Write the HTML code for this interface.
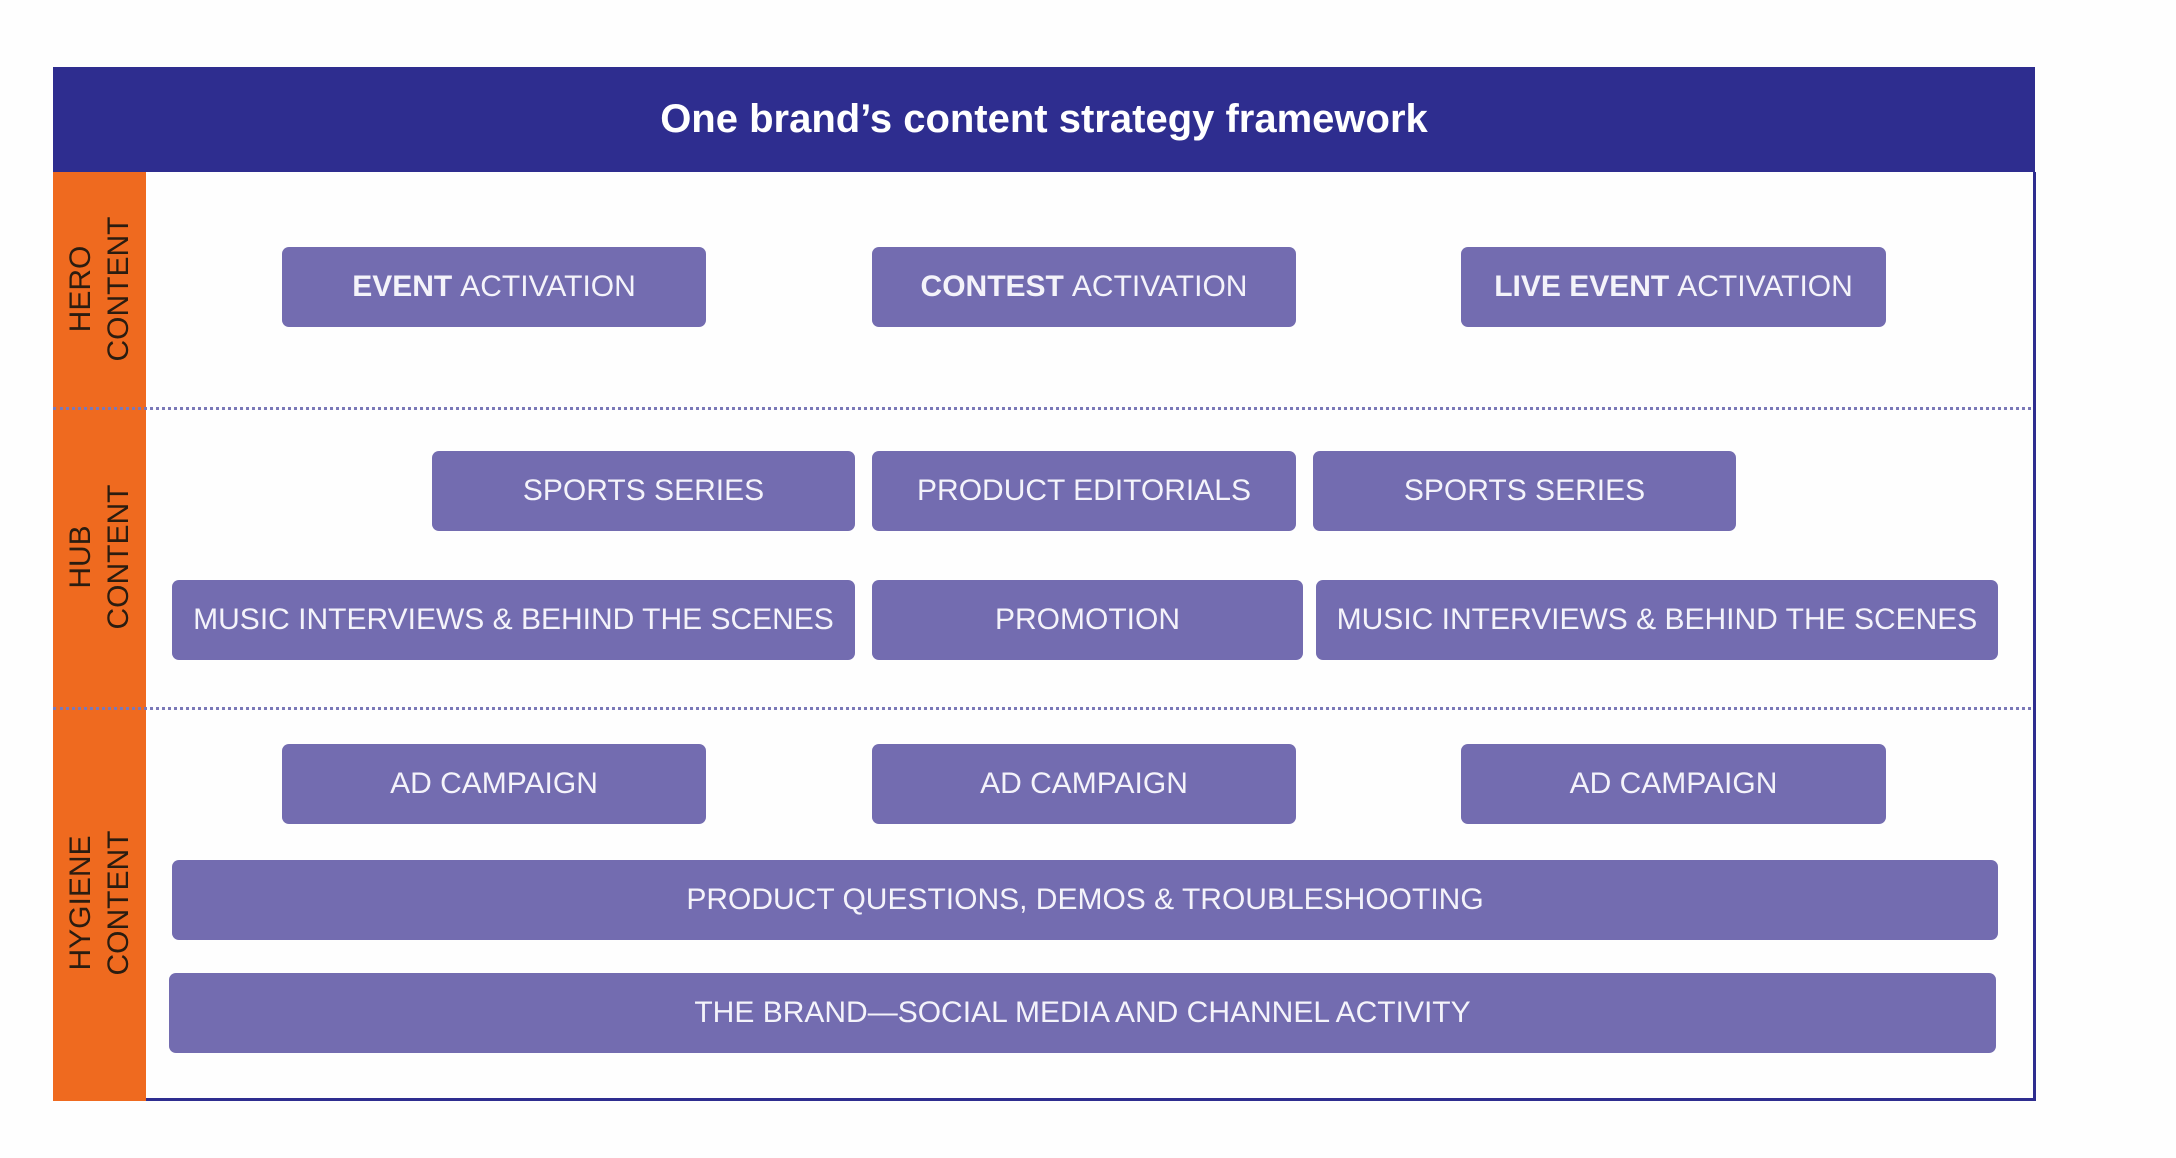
<!DOCTYPE html>
<html><head><meta charset="utf-8"><style>
html,body{margin:0;padding:0;background:#fefefe;}
body{width:2176px;height:1158px;position:relative;overflow:hidden;font-family:"Liberation Sans",Arial,sans-serif;}
.hdr{position:absolute;left:53px;top:67px;width:1982px;height:105px;background:#2e2d8f;color:#fff;font-weight:bold;font-size:40px;display:flex;align-items:center;justify-content:center;}
.frame{position:absolute;left:146px;top:172px;width:1887px;height:926px;border-right:3px solid #2e2d8f;border-bottom:3px solid #2e2d8f;}
.side{position:absolute;left:53px;top:172px;width:93px;height:929px;background:#ef6a1f;}
.dot{position:absolute;left:53px;width:1978px;height:0;border-top:3px dotted #7a78b8;}
.b{position:absolute;height:80px;background:#736cb0;border-radius:7px;color:#f4f3fa;font-size:30px;display:flex;align-items:center;justify-content:center;white-space:nowrap;}
.b b{font-weight:bold;margin-right:8px;}
.lab{position:absolute;left:100px;transform:translate(-50%,-50%) rotate(-90deg);font-size:30px;line-height:38px;text-align:center;color:#2a1c10;white-space:nowrap;}
</style></head><body>
<div class="hdr">One brand’s content strategy framework</div>
<div class="frame"></div>
<div class="side"></div>
<div class="lab" style="top:289px">HERO<br>CONTENT</div>
<div class="lab" style="top:557px">HUB<br>CONTENT</div>
<div class="lab" style="top:903px">HYGIENE<br>CONTENT</div>
<div class="dot" style="top:407px"></div>
<div class="dot" style="top:707px"></div>

<div class="b" style="left:282px;top:247px;width:424px"><b>EVENT</b>ACTIVATION</div>
<div class="b" style="left:872px;top:247px;width:424px"><b>CONTEST</b>ACTIVATION</div>
<div class="b" style="left:1461px;top:247px;width:425px"><b>LIVE EVENT</b>ACTIVATION</div>

<div class="b" style="left:432px;top:451px;width:423px">SPORTS SERIES</div>
<div class="b" style="left:872px;top:451px;width:424px">PRODUCT EDITORIALS</div>
<div class="b" style="left:1313px;top:451px;width:423px">SPORTS SERIES</div>

<div class="b" style="left:172px;top:580px;width:683px">MUSIC INTERVIEWS &amp; BEHIND THE SCENES</div>
<div class="b" style="left:872px;top:580px;width:431px">PROMOTION</div>
<div class="b" style="left:1316px;top:580px;width:682px">MUSIC INTERVIEWS &amp; BEHIND THE SCENES</div>

<div class="b" style="left:282px;top:744px;width:424px">AD CAMPAIGN</div>
<div class="b" style="left:872px;top:744px;width:424px">AD CAMPAIGN</div>
<div class="b" style="left:1461px;top:744px;width:425px">AD CAMPAIGN</div>

<div class="b" style="left:172px;top:860px;width:1826px">PRODUCT QUESTIONS, DEMOS &amp; TROUBLESHOOTING</div>
<div class="b" style="left:169px;top:973px;width:1827px">THE BRAND—SOCIAL MEDIA AND CHANNEL ACTIVITY</div>
</body></html>
